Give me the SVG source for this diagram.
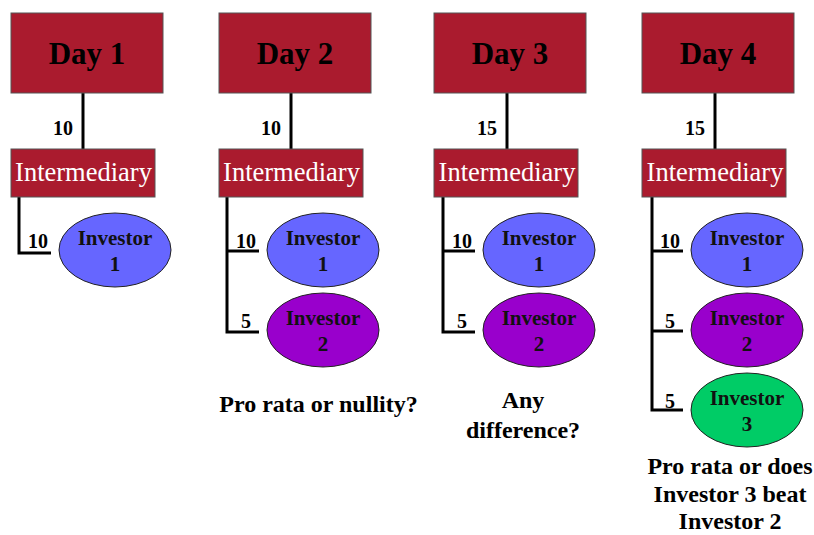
<svg xmlns="http://www.w3.org/2000/svg" width="814" height="535" viewBox="0 0 814 535">
<style>
text{font-family:'Liberation Serif','Times New Roman',Times,serif}
.day{fill:#AA1B2E;stroke:#555;stroke-width:1}
.daytxt{font-weight:bold;font-size:31px;fill:#000;text-anchor:middle}
.intm{fill:#AA1B2E;stroke:#555;stroke-width:1}
.intmtxt{font-size:26.5px;fill:#fff;text-anchor:middle}
.inv{stroke:#222;stroke-width:1}
.invtxt{font-weight:bold;font-size:21px;fill:#111;text-anchor:middle}
.num{font-weight:bold;font-size:20px;fill:#000;text-anchor:middle}
.note{font-weight:bold;font-size:24px;fill:#000;text-anchor:middle}
.ln{stroke:#000;stroke-width:3;fill:none}
</style>
<g id="connectors">
<line class="ln" x1="83" y1="93" x2="83" y2="149"/>
<polyline class="ln" points="19,197 19,253 51,253"/>
<line class="ln" x1="291" y1="93" x2="291" y2="149"/>
<polyline class="ln" points="227,197 227,332 259,332"/>
<line class="ln" x1="227" y1="251" x2="259" y2="251"/>
<line class="ln" x1="507" y1="93" x2="507" y2="149"/>
<polyline class="ln" points="443,197 443,332 475,332"/>
<line class="ln" x1="443" y1="251" x2="475" y2="251"/>
<line class="ln" x1="715" y1="93" x2="715" y2="149"/>
<polyline class="ln" points="652,197 652,410 683,410"/>
<line class="ln" x1="652" y1="251" x2="683" y2="251"/>
<line class="ln" x1="652" y1="331" x2="683" y2="331"/>
<text class="num" x="63" y="135">10</text>
<text class="num" x="38" y="248">10</text>
<text class="num" x="271" y="135">10</text>
<text class="num" x="246" y="248">10</text>
<text class="num" x="246" y="328">5</text>
<text class="num" x="487" y="135">15</text>
<text class="num" x="462" y="248">10</text>
<text class="num" x="462" y="328">5</text>
<text class="num" x="695" y="135">15</text>
<text class="num" x="670" y="248">10</text>
<text class="num" x="670" y="328">5</text>
<text class="num" x="670" y="408">5</text>
</g>
<g id="day1">
<rect class="day" x="11" y="13" width="152" height="80"/>
<text class="daytxt" x="87" y="64">Day 1</text>
</g>
<g id="intermediary1">
<rect class="intm" x="11" y="149" width="144" height="48"/>
<text class="intmtxt" x="83.5" y="181">Intermediary</text>
</g>
<g id="d1investor1">
<ellipse class="inv" cx="115" cy="250" rx="56" ry="37" fill="#6666FF"/>
<text class="invtxt" x="115" y="245">Investor</text>
<text class="invtxt" x="115" y="271">1</text>
</g>
<g id="day2">
<rect class="day" x="219" y="13" width="152" height="80"/>
<text class="daytxt" x="295" y="64">Day 2</text>
</g>
<g id="intermediary2">
<rect class="intm" x="219" y="149" width="144" height="48"/>
<text class="intmtxt" x="291.5" y="181">Intermediary</text>
</g>
<g id="d2investor1">
<ellipse class="inv" cx="323" cy="250" rx="56" ry="37" fill="#6666FF"/>
<text class="invtxt" x="323" y="245">Investor</text>
<text class="invtxt" x="323" y="271">1</text>
</g>
<g id="d2investor2">
<ellipse class="inv" cx="323" cy="330" rx="56" ry="37" fill="#9900CC"/>
<text class="invtxt" x="323" y="325">Investor</text>
<text class="invtxt" x="323" y="351">2</text>
</g>
<g id="note2">
<text class="note" x="318.5" y="412">Pro rata or nullity?</text>
</g>
<g id="day3">
<rect class="day" x="434" y="13" width="152" height="80"/>
<text class="daytxt" x="510" y="64">Day 3</text>
</g>
<g id="intermediary3">
<rect class="intm" x="434" y="149" width="144" height="48"/>
<text class="intmtxt" x="507" y="181">Intermediary</text>
</g>
<g id="d3investor1">
<ellipse class="inv" cx="539" cy="250" rx="56" ry="37" fill="#6666FF"/>
<text class="invtxt" x="539" y="245">Investor</text>
<text class="invtxt" x="539" y="271">1</text>
</g>
<g id="d3investor2">
<ellipse class="inv" cx="539" cy="330" rx="56" ry="37" fill="#9900CC"/>
<text class="invtxt" x="539" y="325">Investor</text>
<text class="invtxt" x="539" y="351">2</text>
</g>
<g id="note3">
<text class="note" x="523" y="408">Any</text>
<text class="note" x="523" y="438">difference?</text>
</g>
<g id="day4">
<rect class="day" x="642" y="13" width="152" height="80"/>
<text class="daytxt" x="718" y="64">Day 4</text>
</g>
<g id="intermediary4">
<rect class="intm" x="642" y="149" width="144" height="48"/>
<text class="intmtxt" x="715" y="181">Intermediary</text>
</g>
<g id="d4investor1">
<ellipse class="inv" cx="747" cy="250" rx="56" ry="37" fill="#6666FF"/>
<text class="invtxt" x="747" y="245">Investor</text>
<text class="invtxt" x="747" y="271">1</text>
</g>
<g id="d4investor2">
<ellipse class="inv" cx="747" cy="330" rx="56" ry="37" fill="#9900CC"/>
<text class="invtxt" x="747" y="325">Investor</text>
<text class="invtxt" x="747" y="351">2</text>
</g>
<g id="d4investor3">
<ellipse class="inv" cx="747" cy="410" rx="56" ry="37" fill="#00CC66"/>
<text class="invtxt" x="747" y="405">Investor</text>
<text class="invtxt" x="747" y="431">3</text>
</g>
<g id="note4">
<text class="note" x="730" y="474">Pro rata or does</text>
<text class="note" x="730" y="502">Investor 3 beat</text>
<text class="note" x="730" y="529">Investor 2</text>
</g>
</svg>
